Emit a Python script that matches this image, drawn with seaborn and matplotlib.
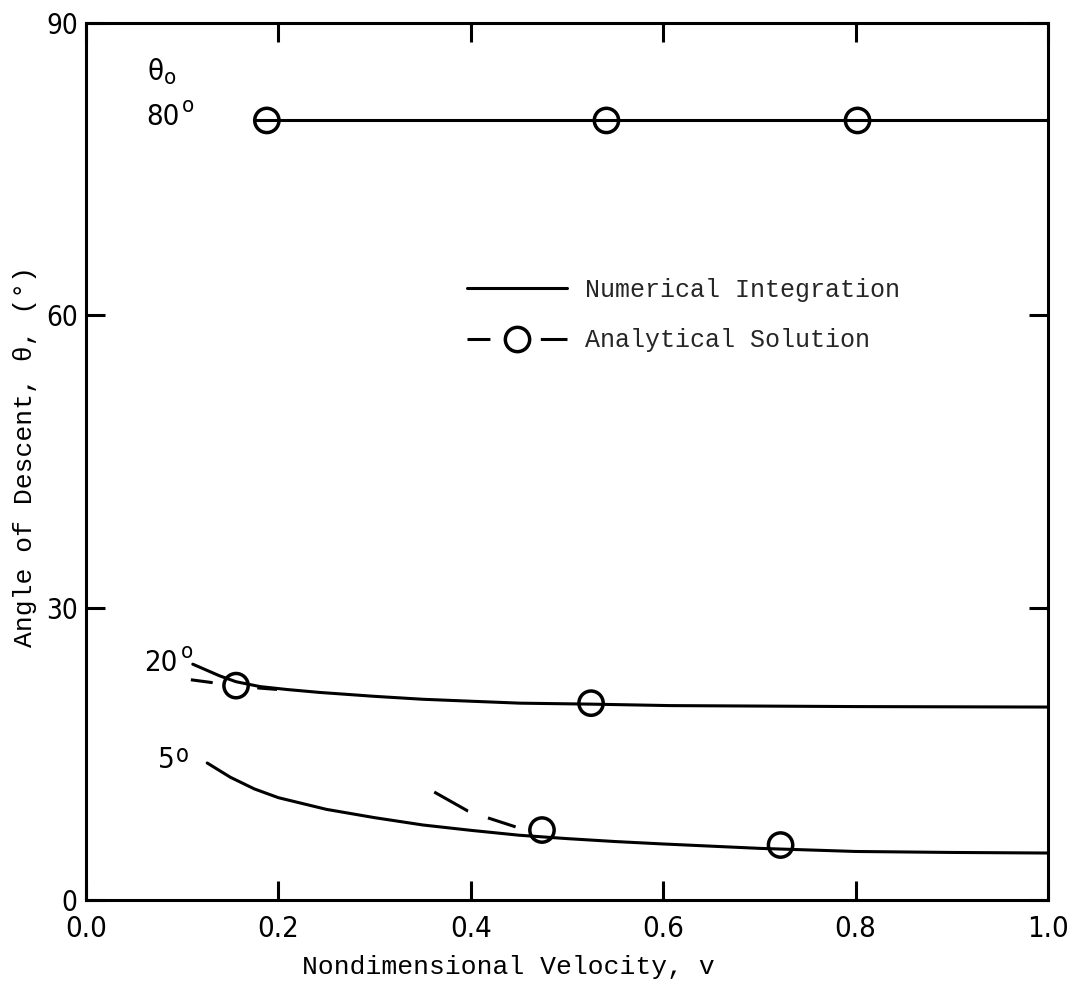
import numpy as np
import pandas as pd
import matplotlib
matplotlib.use("Agg")
import matplotlib.pyplot as plt
from matplotlib.lines import Line2D
from matplotlib import font_manager as fm
import seaborn as sns

# ---------------- data ----------------
# Numerical integration curves (theta0 = 80, 20, 5 deg)
num80_v = [0.176, 1.0]
num80_t = [80.0, 80.0]

num20_v = [0.111, 0.139, 0.156, 0.181, 0.209, 0.243, 0.30, 0.35, 0.40, 0.451, 0.525, 0.607, 0.80, 1.0]
num20_t = [24.2, 23.0, 22.4, 21.9, 21.6, 21.3, 20.9, 20.6, 20.4, 20.2, 20.1, 19.95, 19.85, 19.8]

num5_v = [0.126, 0.15, 0.175, 0.20, 0.25, 0.30, 0.35, 0.40, 0.45, 0.50, 0.55, 0.60, 0.70, 0.80, 0.90, 1.0]
num5_t = [14.06, 12.6, 11.4, 10.5, 9.3, 8.45, 7.7, 7.15, 6.65, 6.3, 6.0, 5.75, 5.3, 4.98, 4.88, 4.82]

# Analytical solution (dashed parts where it departs from numerical)
ana20_v = [0.109, 0.132, 0.156, 0.180, 0.200]
ana20_t = [22.6, 22.3, 22.0, 21.75, 21.6]

ana5_v = [0.362, 0.397, 0.418, 0.447, 0.474]
ana5_t = [11.08, 9.13, 8.42, 7.49, 7.18]

# Analytical solution circles
circ_v = [0.188, 0.541, 0.802, 0.156, 0.525, 0.474, 0.722]
circ_t = [80.0, 80.0, 80.0, 22.0, 20.2, 7.18, 5.64]

x_ticks = [0.0, 0.2, 0.4, 0.6, 0.8, 1.0]
x_ticklabels = ["0.0", "0.2", "0.4", "0.6", "0.8", "1.0"]
y_ticks = [0, 30, 60, 90]
y_ticklabels = ["0", "30", "60", "90"]

legend_labels = ["Numerical Integration", "Analytical Solution"]
x_label = "Nondimensional Velocity, v"
y_label = "Angle of Descent, \u03b8, (\u00b0)"

# ---------------- style ----------------
sns.set_style("ticks")
names = {f.name for f in fm.fontManager.ttflist}
mono = "Liberation Mono" if "Liberation Mono" in names else "DejaVu Sans Mono"
sans = "Liberation Sans" if "Liberation Sans" in names else "DejaVu Sans"

# look for a condensed sans face for the numerals
cond_path = None
prefs = ["LiberationSansNarrow-Regular", "DejaVuSansCondensed.", "RobotoCondensed-Regular",
         "OpenSans_Condensed-Regular", "OpenSansCondensed", "NotoSans-Condensed.",
         "NotoSansDisplay-Condensed.", "Roboto_Condensed-Regular"]
files = [f.fname for f in fm.fontManager.ttflist]
for p in prefs:
    hit = [f for f in files if p in f.split("/")[-1]]
    if hit:
        cond_path = hit[0]
        break
if cond_path is None:
    hit = [f.fname for f in fm.fontManager.ttflist
           if f.stretch in ("condensed", "semi-condensed") and f.style == "normal"
           and f.weight in (400, "normal", "regular") and "Mono" not in f.name]
    if hit:
        cond_path = hit[0]

def num_font(size):
    if cond_path:
        return fm.FontProperties(fname=cond_path, size=size)
    return fm.FontProperties(family=[sans, "DejaVu Sans"], size=size * 0.88)

plt.rcParams["font.family"] = [sans, "DejaVu Sans"]
plt.rcParams["axes.linewidth"] = 2.2

fig = plt.figure(figsize=(10.70, 9.89), dpi=100)
ax = fig.add_axes([86 / 1070, 1 - 900 / 989, 962 / 1070, 877 / 989])

LW = 2.2

# numerical curves
for v, t in [(num80_v, num80_t), (num20_v, num20_t), (num5_v, num5_t)]:
    df = pd.DataFrame({"v": v, "t": t})
    sns.lineplot(data=df, x="v", y="t", ax=ax, color="black", lw=LW,
                 sort=False, estimator=None)

# analytical dashed curves
for v, t, ls in [(ana20_v, ana20_t, (0, (7.2, 14.7, 6.5, 10))),
                 (ana5_v, ana5_t, (0, (12.7, 6.9, 9.5, 10)))]:
    df = pd.DataFrame({"v": v, "t": t})
    sns.lineplot(data=df, x="v", y="t", ax=ax, color="black", lw=LW,
                 linestyle=ls, sort=False, estimator=None)

# analytical circles
dfc = pd.DataFrame({"v": circ_v, "t": circ_t})
sns.scatterplot(data=dfc, x="v", y="t", ax=ax, s=17.5 ** 2, marker="o",
                facecolor="none", edgecolor="black", linewidth=2.5, zorder=5)

ax.set_xlim(0, 1)
ax.set_ylim(0, 90)
ax.set_xticks(x_ticks)
ax.set_xticklabels(x_ticklabels, fontproperties=num_font(21))
ax.set_yticks(y_ticks)
ax.set_yticklabels(y_ticklabels, fontproperties=num_font(20))
ax.tick_params(direction="in", top=True, right=True, length=14, width=2.2,
               color="black", labelcolor="black")
ax.tick_params(axis="x", pad=11)
ax.tick_params(axis="y", pad=6)
for s in ax.spines.values():
    s.set_color("black")
    s.set_linewidth(2.2)

ax.set_xlabel(x_label, fontsize=19, family=[mono, "DejaVu Sans Mono"], color="black")
ax.xaxis.set_label_coords(0.439, -0.063)
ax.set_ylabel(y_label, fontsize=19, family=[mono, "DejaVu Sans Mono"], color="black")
ax.yaxis.set_label_coords(-0.051, 0.506)

# curve annotations
ann = [
    ("\u03b8", 0.072, 85.0, 21), ("o", 0.087, 84.4, 16),
    ("80", 0.0795, 80.4, 21), ("o", 0.106, 81.5, 16),
    ("20", 0.078, 24.3, 21), ("o", 0.1045, 25.5, 16),
    ("5", 0.084, 14.4, 21), ("o", 0.100, 14.9, 17),
]
for txt, x, y, fs in ann:
    ax.text(x, y, txt, ha="center", va="center", color="black",
            fontproperties=num_font(fs))

# legend
h1 = Line2D([], [], color="black", lw=LW)
h2 = Line2D([], [], color="black", lw=LW, linestyle=(0, (7.5, 16.5, 10, 5)),
            marker="o", markerfacecolor="none", markeredgecolor="black",
            markersize=17.5, markeredgewidth=2.5)
leg = ax.legend([h1, h2], legend_labels, loc="upper left",
                bbox_to_anchor=((467 - 86) / 962, (900 - 278) / 877),
                frameon=False, borderpad=0, borderaxespad=0, handlelength=4.0,
                handletextpad=0.72, labelspacing=1.05, numpoints=1,
                prop={"family": [mono, "DejaVu Sans Mono"], "size": 18})

fig.savefig("out.png", dpi=100, facecolor="white")
